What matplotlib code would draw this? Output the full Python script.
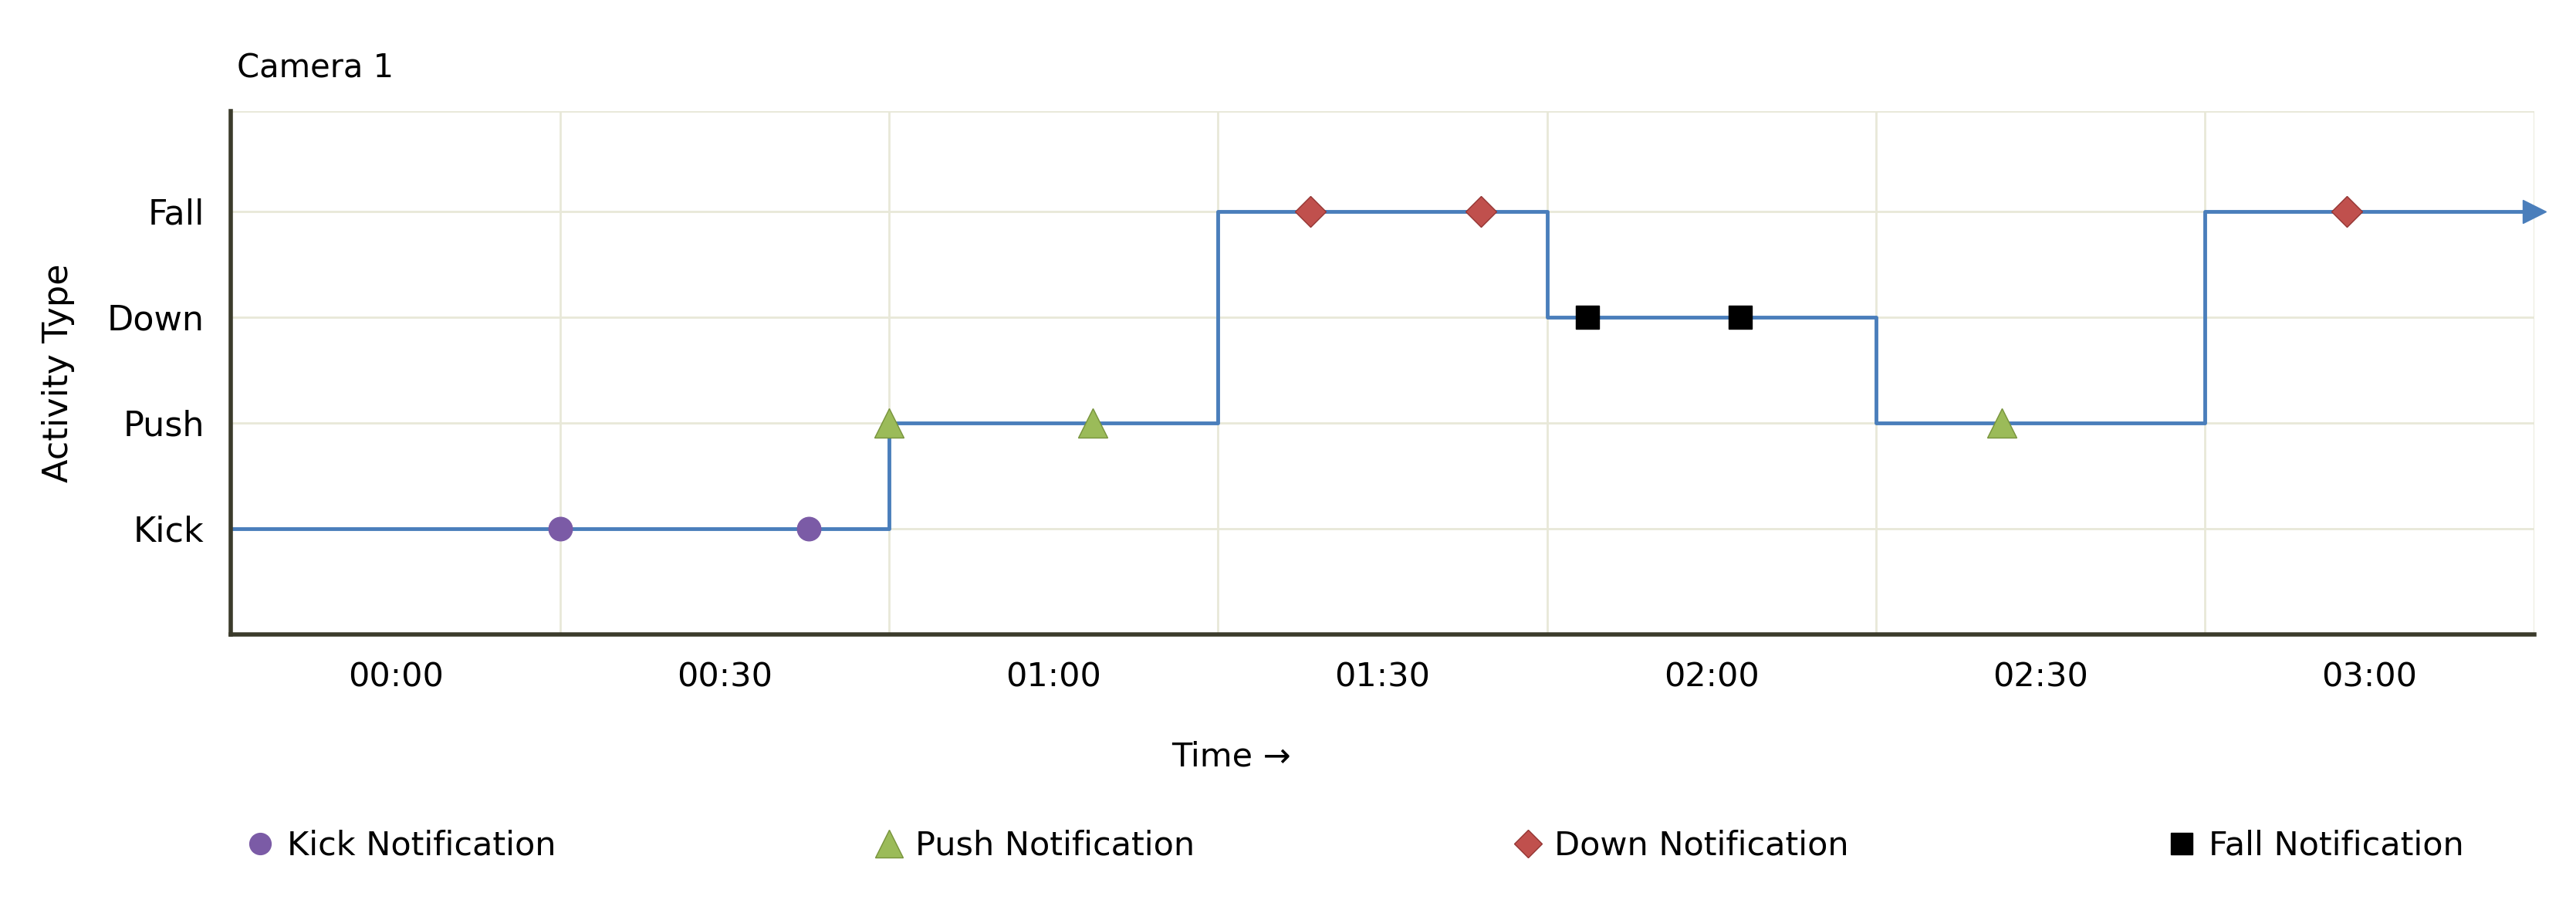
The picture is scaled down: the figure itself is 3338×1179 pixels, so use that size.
import matplotlib
matplotlib.use("Agg")
import matplotlib.pyplot as plt
from matplotlib.lines import Line2D

levels = ["Kick", "Push", "Down", "Fall"]
step_t = [-15, 45, 75, 105, 135, 165, 195]
step_v = [1, 2, 4, 3, 2, 4, 4]
kick_t = [15, 37.7]; kick_v = [1, 1]
push_t = [45, 63.6, 146.5]; push_v = [2, 2, 2]
down_t = [83.4, 99, 177.9]; down_v = [4, 4, 4]
fall_t = [108.7, 122.6]; fall_v = [3, 3]
xticks = [0, 30, 60, 90, 120, 150, 180]
xlabels = ["00:00", "00:30", "01:00", "01:30", "02:00", "02:30", "03:00"]

fig = plt.figure(figsize=(33.38, 11.79), dpi=100)
ax = fig.add_axes([0.0897, 0.303, 0.894, 0.575])
ax.set_xlim(-15, 195); ax.set_ylim(0, 4.95)
for x in [15, 45, 75, 105, 135, 165, 195]:
    ax.axvline(x, color="#e8e8d8", lw=2, zorder=0)
for y in [1, 2, 3, 4, 4.95]:
    ax.axhline(y, color="#e8e8d8", lw=2, zorder=0)
ax.step(step_t, step_v, where="post", color="#4a7ebb", lw=3.5, zorder=2)
ax.plot([195], [4], marker=">", color="#4a7ebb", ms=22, clip_on=False, zorder=3)
ax.plot(kick_t, kick_v, "o", color="#7b5ba6", ms=22, ls="none", zorder=4)
ax.plot(push_t, push_v, "^", color="#9bbb59", mec="#77933c", ms=28, ls="none", zorder=4)
ax.plot(down_t, down_v, "D", color="#c0504d", mec="#943634", ms=20, ls="none", zorder=4)
ax.plot(fall_t, fall_v, "s", color="black", ms=22, ls="none", zorder=4)
ax.set_yticks([1, 2, 3, 4]); ax.set_yticklabels(levels, fontsize=32)
ax.set_xticks(xticks); ax.set_xticklabels(xlabels, fontsize=31)
ax.tick_params(length=0, pad=25)
for s in ["top", "right"]:
    ax.spines[s].set_visible(False)
for s in ["left", "bottom"]:
    ax.spines[s].set_color("#3b3b2b"); ax.spines[s].set_linewidth(4)
ax.set_ylabel("Activity Type", fontsize=32, labelpad=30)
fig.text(0.092, 0.925, "Camera 1", fontsize=30, ha="left", va="center")
fig.text(0.478, 0.168, "Time \u2192", fontsize=31, ha="center", va="center")
handles = [
    Line2D([], [], marker="o", color="#7b5ba6", ls="none", ms=20),
    Line2D([], [], marker="^", color="#9bbb59", mec="#77933c", ls="none", ms=26),
    Line2D([], [], marker="D", color="#c0504d", mec="#943634", ls="none", ms=18),
    Line2D([], [], marker="s", color="black", ls="none", ms=20),
]
fig.legend(handles, ["Kick Notification", "Push Notification", "Down Notification", "Fall Notification"],
           loc="lower left", bbox_to_anchor=(0.083, 0.02, 0.885, 0.1), mode="expand", ncol=4,
           frameon=False, fontsize=31, handletextpad=0.3, handlelength=1.0)
fig.savefig("out.png", dpi=100)
